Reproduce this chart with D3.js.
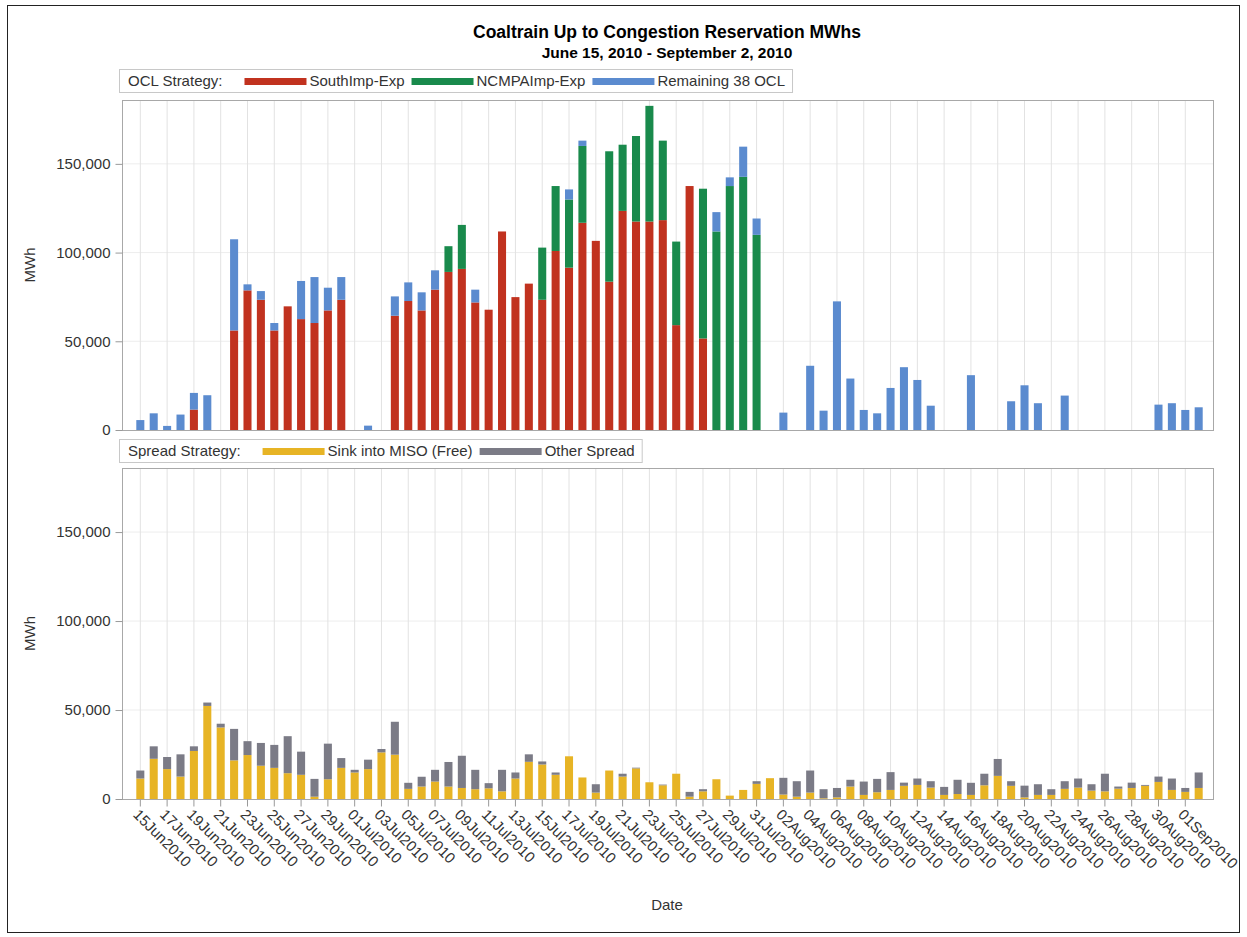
<!DOCTYPE html>
<html>
<head>
<meta charset="utf-8">
<script src="https://cdn.jsdelivr.net/npm/d3@7"></script>
<style>
  body { margin: 0; background: #fff; }
  text { font-family: "Liberation Sans", Arial, sans-serif; }
</style>
</head>
<body>
<script>
// daily values, 15Jun2010 .. 02Sep2010 (80 days)
var startDay = new Date(2010, 5, 15);
var endDay = new Date(2010, 8, 3);

// OCL strategy (MWh)
var southImpExp = [
    0, 0, 0, 0, 11500, 0, 0, 56100, 78700, 73400,
    56100, 69700, 62500, 60300, 67400, 73400, 0, 0, 0, 64400,
    72700, 67400, 79100, 89100, 90800, 71900, 67800, 111900, 74900, 82500,
    73400, 100900, 91500, 116800, 106600, 83600, 123500, 117500, 117500, 118300,
    59100, 137500, 51600, 0, 0, 0, 0, 0, 0, 0,
    0, 0, 0, 0, 0, 0, 0, 0, 0, 0,
    0, 0, 0, 0, 0, 0, 0, 0, 0, 0,
    0, 0, 0, 0, 0, 0, 0, 0, 0, 0
];
var ncmpaImpExp = [
    0, 0, 0, 0, 0, 0, 0, 0, 0, 0,
    0, 0, 0, 0, 0, 0, 0, 0, 0, 0,
    0, 0, 0, 14500, 24800, 0, 0, 0, 0, 0,
    29400, 36600, 38400, 43300, 0, 73500, 37300, 48200, 65200, 44800,
    47100, 0, 84400, 111900, 137500, 142700, 110000, 0, 0, 0,
    0, 0, 0, 0, 0, 0, 0, 0, 0, 0,
    0, 0, 0, 0, 0, 0, 0, 0, 0, 0,
    0, 0, 0, 0, 0, 0, 0, 0, 0, 0
];
var remaining38 = [
    5600, 9400, 2300, 8700, 9400, 19600, 0, 51400, 3400, 4900,
    4200, 0, 21500, 25900, 12800, 12800, 0, 2450, 0, 10900,
    10500, 10200, 10900, 0, 0, 7200, 0, 0, 0, 0,
    0, 0, 5700, 3000, 0, 0, 0, 0, 0, 0,
    0, 0, 0, 10900, 4900, 17000, 9200, 0, 9800, 0,
    36200, 10900, 72500, 29000, 11300, 9400, 23700, 35400, 28200, 13700,
    0, 0, 30900, 0, 0, 16200, 25200, 15100, 0, 19400,
    0, 0, 0, 0, 0, 0, 14300, 15100, 11300, 12800
];

// Spread strategy (MWh)
var sinkMiso = [
    11500, 22600, 16800, 12600, 27000, 52300, 40200, 21700, 24700, 18700,
    17500, 14500, 13600, 1300, 11100, 17500, 14900, 16800, 26200, 24900,
    5700, 7000, 9800, 7000, 6200, 5500, 6000, 4300, 11500, 20900,
    19400, 13600, 24000, 12100, 3600, 16000, 12600, 17200, 9400, 7700,
    14200, 1300, 4300, 11100, 1900, 5100, 8500, 11700, 2500, 1300,
    3600, 400, 900, 7000, 2300, 3800, 5100, 7400, 7900, 6400,
    2300, 2800, 2300, 7700, 13000, 7400, 900, 2300, 2300, 5700,
    6400, 4700, 4300, 5800, 6200, 7400, 9600, 5100, 4000, 6200
];
var otherSpread = [
    4500, 7000, 6800, 12500, 2600, 1900, 2100, 17700, 7800, 12800,
    12900, 20800, 13000, 10000, 20000, 5500, 1500, 5300, 1900, 18500,
    3400, 5500, 6600, 13800, 18100, 10900, 2900, 12100, 3400, 4200,
    1700, 1300, 0, 0, 4700, 0, 1600, 400, 0, 400,
    0, 2700, 1200, 0, 0, 0, 1500, 0, 9400, 8700,
    12400, 5100, 5300, 3800, 7500, 7500, 10000, 1800, 3600, 3600,
    4500, 8000, 6800, 6500, 9500, 2600, 6600, 6000, 3200, 4300,
    5100, 3600, 9900, 1200, 3000, 500, 3000, 6400, 2200, 8700
];

// x tick labels, every second day
var tickLabels = [
    '15Jun2010', '17Jun2010', '19Jun2010', '21Jun2010', '23Jun2010',
    '25Jun2010', '27Jun2010', '29Jun2010', '01Jul2010', '03Jul2010',
    '05Jul2010', '07Jul2010', '09Jul2010', '11Jul2010', '13Jul2010',
    '15Jul2010', '17Jul2010', '19Jul2010', '21Jul2010', '23Jul2010',
    '25Jul2010', '27Jul2010', '29Jul2010', '31Jul2010', '02Aug2010',
    '04Aug2010', '06Aug2010', '08Aug2010', '10Aug2010', '12Aug2010',
    '14Aug2010', '16Aug2010', '18Aug2010', '20Aug2010', '22Aug2010',
    '24Aug2010', '26Aug2010', '28Aug2010', '30Aug2010', '01Sep2010'
];
var yTicks = [0, 50000, 100000, 150000];

var oclSeries = ['SouthImp-Exp', 'NCMPAImp-Exp', 'Remaining 38 OCL'];
var oclColors = ['#c1321f', '#198a4c', '#5b8bcf'];
var spreadSeries = ['Sink into MISO (Free)', 'Other Spread'];
var spreadColors = ['#e7b425', '#7b7b86'];

var days = d3.timeDay.range(startDay, endDay);
var fmt = d3.timeFormat('%d%b%Y');

var oclRows = days.map(function(d, i) {
    return {day: fmt(d), 'SouthImp-Exp': southImpExp[i],
        'NCMPAImp-Exp': ncmpaImpExp[i], 'Remaining 38 OCL': remaining38[i]};
});
var spreadRows = days.map(function(d, i) {
    return {day: fmt(d), 'Sink into MISO (Free)': sinkMiso[i], 'Other Spread': otherSpread[i]};
});

var W = 1247, H = 937;
var svg = d3.select('body').append('svg')
    .attr('width', W)
    .attr('height', H);

// outer frame
svg.append('rect')
    .attr('x', 7.5).attr('y', 5.5)
    .attr('width', 1232).attr('height', 927)
    .attr('fill', 'none')
    .attr('stroke', '#222');

var plotL = 122, plotR = 1213;

var xScale = d3.scaleBand()
    .domain(days.map(function(d) { return fmt(d); }))
    .range([136.3, 1202.7])
    .paddingInner(0.4);

// titles
svg.append('text')
    .attr('x', 667).attr('y', 38)
    .attr('text-anchor', 'middle')
    .style('font-size', '17.5px').style('font-weight', 'bold')
    .text('Coaltrain Up to Congestion Reservation MWhs');
svg.append('text')
    .attr('x', 667).attr('y', 58)
    .attr('text-anchor', 'middle')
    .style('font-size', '15.5px').style('font-weight', 'bold')
    .text('June 15, 2010 - September 2, 2010');

function drawPanel(top, bottom, rows, keys, colors, legendTitle, legendY) {
    var yScale = d3.scaleLinear()
        .domain([0, 186000])
        .range([bottom, top]);

    var g = svg.append('g');

    // horizontal grid
    g.selectAll('.hgrid')
        .data(yTicks.slice(1))
        .enter().append('line')
        .attr('x1', plotL).attr('x2', plotR)
        .attr('y1', function(d) { return yScale(d); })
        .attr('y2', function(d) { return yScale(d); })
        .attr('stroke', '#ededed');

    // vertical grid at labelled days
    g.selectAll('.vgrid')
        .data(tickLabels)
        .enter().append('line')
        .attr('x1', function(d) { return xScale(d) + xScale.bandwidth() / 2; })
        .attr('x2', function(d) { return xScale(d) + xScale.bandwidth() / 2; })
        .attr('y1', top).attr('y2', bottom)
        .attr('stroke', '#e2e2e2');

    var stack = d3.stack().keys(keys)(rows);
    g.selectAll('.layer')
        .data(stack)
        .enter().append('g')
        .attr('fill', function(d, i) { return colors[i]; })
        .selectAll('rect')
        .data(function(d) { return d; })
        .enter().append('rect')
        .attr('x', function(d) { return xScale(d.data.day); })
        .attr('width', xScale.bandwidth())
        .attr('y', function(d) { return yScale(d[1]); })
        .attr('height', function(d) { return yScale(d[0]) - yScale(d[1]); });

    // frame
    g.append('rect')
        .attr('x', plotL + 0.5).attr('y', top + 0.5)
        .attr('width', plotR - plotL).attr('height', bottom - top)
        .attr('fill', 'none')
        .attr('stroke', '#a8a8a8');

    // y axis
    var yAxis = d3.axisLeft(yScale)
        .tickValues(yTicks)
        .tickFormat(d3.format(','))
        .tickSize(7)
        .tickPadding(5);
    var ya = g.append('g')
        .attr('transform', 'translate(' + (plotL + 0.5) + ',0)')
        .call(yAxis);
    ya.select('.domain').remove();
    ya.selectAll('line').attr('stroke', '#999');
    ya.selectAll('text')
        .style('font-size', '15px')
        .style('font-family', '"Liberation Sans", Arial, sans-serif')
        .attr('fill', '#333');

    svg.append('text')
        .attr('transform', 'translate(35,' + ((top + bottom) / 2) + ') rotate(-90)')
        .attr('text-anchor', 'middle')
        .style('font-size', '15px')
        .attr('fill', '#333')
        .text('MWh');

    // legend
    var lg = svg.append('g');
    var box = lg.append('rect')
        .attr('x', 119.5).attr('y', legendY + 0.5)
        .attr('height', 23)
        .attr('fill', '#fff')
        .attr('stroke', '#c8c8c8');
    var head = lg.append('text')
        .attr('x', 128).attr('y', legendY + 17)
        .style('font-size', '15px')
        .attr('fill', '#333')
        .text(legendTitle);
    var cx = 128 + head.node().getComputedTextLength() + 22;
    keys.forEach(function(k, i) {
        lg.append('rect')
            .attr('x', cx).attr('y', legendY + 9)
            .attr('width', 62).attr('height', 7)
            .attr('fill', colors[i]);
        var t = lg.append('text')
            .attr('x', cx + 65).attr('y', legendY + 17)
            .style('font-size', '15px')
            .attr('fill', '#333')
            .text(k);
        cx += 65 + t.node().getComputedTextLength() + 7;
    });
    box.attr('width', cx - 119);
}

drawPanel(100, 430, oclRows, oclSeries, oclColors, 'OCL Strategy:', 69);
drawPanel(468, 799, spreadRows, spreadSeries, spreadColors, 'Spread Strategy:', 439);

// x axis at bottom
var xAxis = d3.axisBottom(xScale)
    .tickValues(tickLabels)
    .tickSize(7)
    .tickFormat(function(d) { return d; });
var xa = svg.append('g')
    .attr('transform', 'translate(0,799.5)')
    .call(xAxis);
xa.select('.domain').remove();
xa.selectAll('line').attr('stroke', '#999');
xa.selectAll('text')
    .style('font-size', '15px')
    .style('font-family', '"Liberation Sans", Arial, sans-serif')
    .attr('fill', '#333')
    .attr('text-anchor', 'start')
    .attr('dy', null)
    .attr('y', 0)
    .attr('transform', 'translate(-8,16) rotate(45)');

svg.append('text')
    .attr('x', 667).attr('y', 910)
    .attr('text-anchor', 'middle')
    .style('font-size', '15px')
    .attr('fill', '#333')
    .text('Date');
</script>
</body>
</html>
